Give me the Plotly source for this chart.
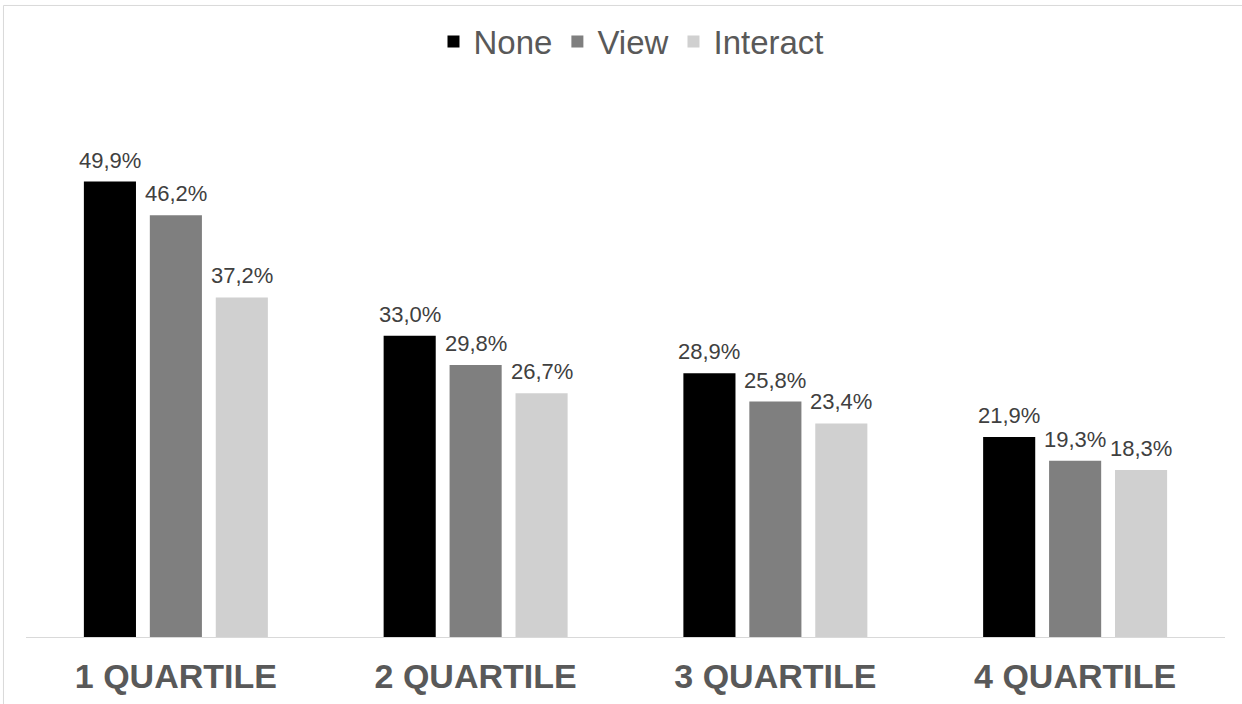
import plotly.graph_objects as go

categories = ["1 QUARTILE", "2 QUARTILE", "3 QUARTILE", "4 QUARTILE"]
none_vals = [49.9, 33.0, 28.9, 21.9]
view_vals = [46.2, 29.8, 25.8, 19.3]
interact_vals = [37.2, 26.7, 23.4, 18.3]

series = [
    ("None", none_vals, "#000000"),
    ("View", view_vals, "#7f7f7f"),
    ("Interact", interact_vals, "#d0d0d0"),
]

FONT = "Liberation Sans, Arial"
BARGAP = 0.34
positions = list(range(len(categories)))

fig = go.Figure()
annotations = []
n_series = len(series)
slot = (1 - BARGAP) / n_series
for k, (name, vals, color) in enumerate(series):
    fig.add_trace(go.Bar(
        name=name,
        x=positions,
        y=vals,
        marker=dict(color=color, line=dict(width=0)),
    ))
    offset = (k - (n_series - 1) / 2) * slot
    for i, v in enumerate(vals):
        annotations.append(dict(
            x=positions[i] + offset, y=v, xref="x", yref="y",
            text=f"{v:.1f}%".replace(".", ","),
            showarrow=False, yanchor="bottom", xanchor="center", yshift=7,
            font=dict(size=22, color="#404040", family=FONT),
        ))

fig.update_layout(
    width=1242,
    height=704,
    paper_bgcolor="white",
    plot_bgcolor="white",
    font=dict(family=FONT, color="#595959"),
    margin=dict(l=26, r=17, t=135, b=67, autoexpand=False),
    barmode="group",
    bargap=BARGAP,
    bargroupgap=0.21,
    showlegend=True,
    legend=dict(
        orientation="h",
        x=0.505, xanchor="center",
        y=1.186, yanchor="middle",
        font=dict(size=33, color="#595959"),
        itemwidth=30,
        traceorder="normal",
    ),
    xaxis=dict(
        range=[-0.5, len(categories) - 0.5],
        tickvals=positions, ticktext=categories,
        showline=True, linecolor="#d9d9d9", linewidth=1,
        showgrid=False, zeroline=False, ticks="",
        automargin=False,
        ticklabelstandoff=9,
        tickfont=dict(size=34, color="#595959", family=FONT, weight="bold"),
    ),
    yaxis=dict(
        range=[0, 55], visible=False, showgrid=False, zeroline=False,
    ),
    annotations=annotations,
    shapes=[dict(
        type="rect", xref="paper", yref="paper",
        x0=-0.0188, x1=1.05, y0=-0.3, y1=1.258,
        line=dict(color="#d9d9d9", width=1), fillcolor="rgba(0,0,0,0)",
        layer="below",
    )],
)

fig.write_html("out.html")
